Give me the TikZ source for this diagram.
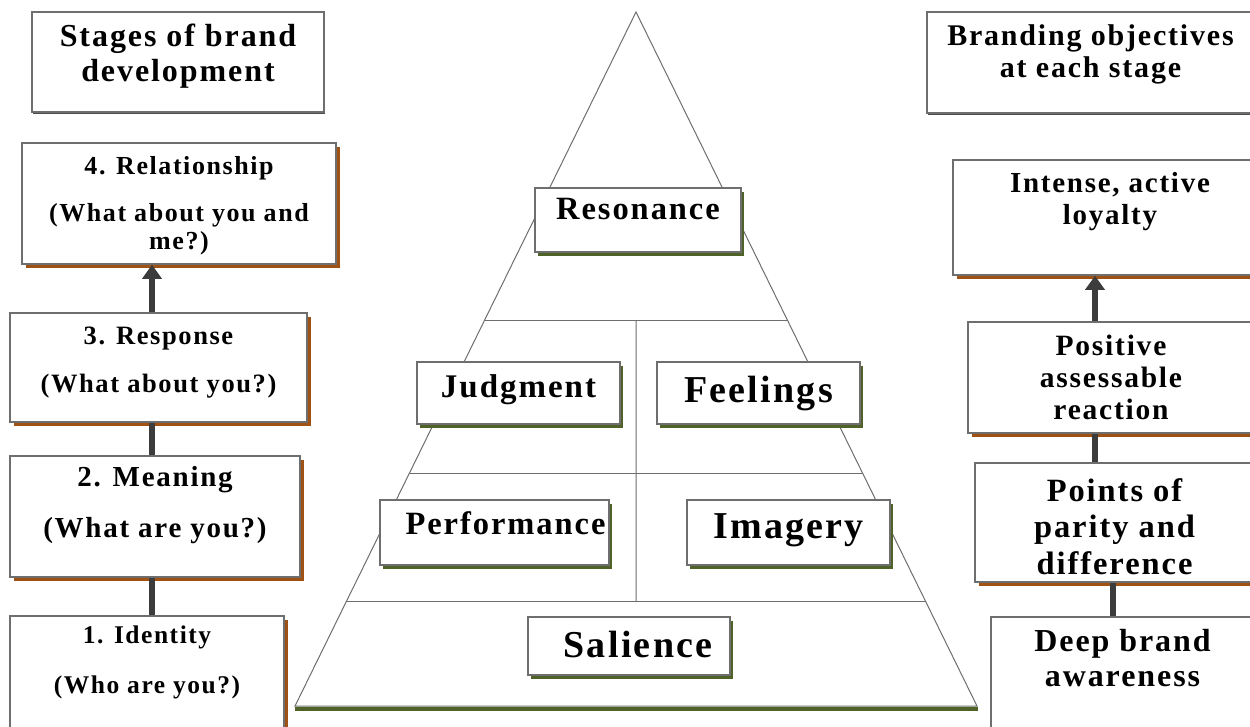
\documentclass[tikz,border=0pt]{standalone}
\usepackage{fontspec}
\setmainfont{Liberation Serif}[LetterSpace=6]
\usetikzlibrary{positioning, shadows, arrows.meta, calc}
\definecolor{rust}{RGB}{160,82,20}
\definecolor{leaf}{RGB}{79,98,40}
\definecolor{edge}{RGB}{110,110,110}
\definecolor{link}{RGB}{60,60,60}
\newcommand{\fsz}[2]{\fontsize{#1}{#2}\selectfont}
\tikzset{
  box/.style={draw=edge, line width=1.5pt, fill=white, inner sep=0pt},
  headbox/.style={box, drop shadow={shadow xshift=1pt, shadow yshift=-2pt, fill=black!70, opacity=1}},
  stagebox/.style={box, drop shadow={shadow xshift=4pt, shadow yshift=-4pt, fill=rust, opacity=1}},
  levelbox/.style={box, drop shadow={shadow xshift=3pt, shadow yshift=-4pt, fill=leaf, opacity=1}},
  txt/.style={align=center, inner sep=0pt},
  wire/.style={draw=link, line width=6.5pt},
  uparrow/.style={wire, -{Triangle[width=19pt, length=14pt]}},
  thin line/.style={draw=edge, line width=1pt}
}

\begin{document}
\begin{tikzpicture}[x=1pt, y=-1pt]
\useasboundingbox (0,0) rectangle (1250,726);
% Pyramid
\coordinate (top) at (636,12);
\coordinate (bl) at (295,706);
\coordinate (br) at (977,706);
\draw[leaf, line width=4pt] ([yshift=-2.5pt]bl) -- ([yshift=-2.5pt, xshift=1pt]br);
\draw[thin line, fill=white] (top) -- (bl) -- (br) -- cycle;
% tiers
\coordinate (tierAL) at ($(top)!0.4452!(bl)$);
\coordinate (tierAR) at ($(top)!0.4452!(br)$);
\coordinate (tierBL) at ($(top)!0.6643!(bl)$);
\coordinate (tierBR) at ($(top)!0.6643!(br)$);
\coordinate (tierCL) at ($(top)!0.8501!(bl)$);
\coordinate (tierCR) at ($(top)!0.8501!(br)$);
\draw[thin line] (tierAL) -- (tierAR);
\draw[thin line] (tierBL) -- (tierBR);
\draw[thin line] (tierCL) -- (tierCR);
\draw[thin line] ($(tierAL)!0.5!(tierAR)$) -- ($(tierCL)!0.5!(tierCR)$);
% Levels
\node[levelbox, minimum width=206pt, minimum height=64pt] (reson) at (638,220) {};
\node[txt, font=\bfseries\fsz{32.5}{35}, below=11pt of reson.north] (reson-t) {Resonance};
\node[levelbox, minimum width=203pt, minimum height=62pt] (judg) at (518.5,393) {};
\node[txt, font=\bfseries\fsz{33}{35}, below=13pt of judg.north] (judg-t) {Judgment};
\node[levelbox, minimum width=203pt, minimum height=62pt] (feel) at (758.5,393) {};
\node[txt, font=\bfseries\fsz{38}{40}, below=14.5pt of feel.north] (feel-t) {Feelings};
\node[levelbox, minimum width=229pt, minimum height=65pt] (perf) at (494.5,532.5) {};
\node[txt, font=\bfseries\fsz{32.5}{35}, below=12.5pt of perf.north, xshift=11pt] (perf-t) {Performance};
\node[levelbox, minimum width=203pt, minimum height=65pt] (imag) at (788.5,532.5) {};
\node[txt, font=\bfseries\fsz{38}{40}, below=14.5pt of imag.north] (imag-t) {Imagery};
\node[levelbox, minimum width=202pt, minimum height=58pt] (sal) at (629,646) {};
\node[txt, font=\bfseries\fsz{38}{40}, below=14.5pt of sal.north, xshift=9pt] (sal-t) {Salience};
% Headers
\node[headbox, minimum width=292pt, minimum height=100pt] (stages) at (178,62) {};
\node[txt, font=\bfseries\fsz{32}{35}, below=13pt of stages.north] (stages-t) {Stages of brand\\development};
\node[headbox, minimum width=327pt, minimum height=101pt] (goals) at (1090.5,62.5) {};
\node[txt, font=\bfseries\fsz{30}{32}, below=13.5pt of goals.north] (goals-t) {Branding objectives\\at each stage};
% Stages
\node[stagebox, minimum width=314pt, minimum height=121pt] (b4) at (179,203.5) {};
\node[txt, font=\bfseries\fsz{26}{28}, below=14pt of b4.north] (b4-t) {4. Relationship\\[19pt](What about you and\\me?)};
\node[stagebox, minimum width=297pt, minimum height=109pt] (b3) at (158.5,367.5) {};
\node[txt, font=\bfseries\fsz{26.5}{28.5}, below=14.5pt of b3.north] (b3-t) {3. Response\\[19.5pt](What about you?)};
\node[stagebox, minimum width=290pt, minimum height=121pt] (b2) at (155,516.5) {};
\node[txt, font=\bfseries\fsz{29}{31}, below=11pt of b2.north] (b2-t) {2. Meaning\\[20pt](What are you?)};
\node[stagebox, minimum width=274pt, minimum height=114pt] (b1) at (147,673) {};
\node[txt, font=\bfseries\fsz{25.5}{27.5}, below=10.5pt of b1.north] (b1-t) {1. Identity\\[22pt](Who are you?)};
% Objectives
\node[stagebox, minimum width=314pt, minimum height=115pt] (loyal) at (1110,217.5) {};
\node[txt, font=\bfseries\fsz{29}{32}, below=13pt of loyal.north] (loyal-t) {Intense, active\\loyalty};
\node[stagebox, minimum width=286pt, minimum height=111pt] (react) at (1111,377.5) {};
\node[txt, font=\bfseries\fsz{29.5}{32}, below=14pt of react.north] (react-t) {Positive\\assessable\\reaction};
\node[stagebox, minimum width=279pt, minimum height=119pt] (parity) at (1114.5,522.5) {};
\node[txt, font=\bfseries\fsz{32.5}{36.5}, below=16pt of parity.north] (parity-t) {Points of\\parity and\\difference};
\node[stagebox, minimum width=263pt, minimum height=113pt] (aware) at (1122.5,673.5) {};
\node[txt, font=\bfseries\fsz{32}{35}, below=13pt of aware.north] (aware-t) {Deep brand\\awareness};
% Links
\draw[uparrow] ([xshift=-6.5pt]b3.north) -- ([xshift=-6.5pt]b3.north |- b4.south);
\draw[wire] ([xshift=-3pt]b2.north) -- ([xshift=-3pt]b2.north |- b3.south);
\draw[wire] ([xshift=5pt]b1.north) -- ([xshift=5pt]b1.north |- b2.south);
\draw[uparrow] ([xshift=-16pt]react.north) -- ([xshift=-16pt]react.north |- loyal.south);
\draw[wire] ([xshift=-19.5pt]parity.north) -- ([xshift=-19.5pt]parity.north |- react.south);
\draw[wire] ([xshift=-9.5pt]aware.north) -- ([xshift=-9.5pt]aware.north |- parity.south);
\end{tikzpicture}
\end{document}
